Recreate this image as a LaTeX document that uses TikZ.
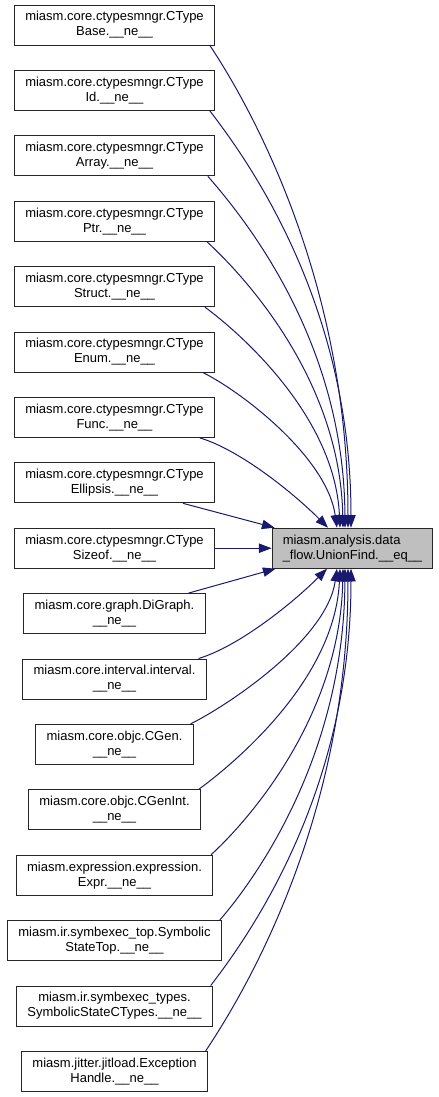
\documentclass[tikz,border=0pt]{standalone}
\usepackage{fontspec}
\setmainfont{Liberation Sans}
\usetikzlibrary{arrows.meta}
\definecolor{edgeblue}{RGB}{25,25,112}
\begin{document}
\begin{tikzpicture}[x=0.75pt,y=-0.75pt,
  src/.style={draw=black!85, line width=0.75pt, fill=white, align=center,
    inner xsep=8pt, inner ysep=2pt, minimum height=30pt,
    font=\fontsize{9.75}{11.25}\selectfont},
  tgt/.style={src, fill=black!25, align=left},
  link/.style={draw=edgeblue, line width=0.75pt, -{Triangle[length=9.5pt,width=7pt]}}]
\useasboundingbox (0,0) rectangle (439,1097);

\node[src] (s0) at (114.5,25) {miasm.core.ctypesmngr.CType\\Base.\_\_ne\_\_};
\node[src] (s1) at (114.5,90.4) {miasm.core.ctypesmngr.CType\\Id.\_\_ne\_\_};
\node[src] (s2) at (114.5,155.8) {miasm.core.ctypesmngr.CType\\Array.\_\_ne\_\_};
\node[src] (s3) at (114.5,221.2) {miasm.core.ctypesmngr.CType\\Ptr.\_\_ne\_\_};
\node[src] (s4) at (114.5,286.6) {miasm.core.ctypesmngr.CType\\Struct.\_\_ne\_\_};
\node[src] (s5) at (114.5,352) {miasm.core.ctypesmngr.CType\\Enum.\_\_ne\_\_};
\node[src] (s6) at (114.5,417.4) {miasm.core.ctypesmngr.CType\\Func.\_\_ne\_\_};
\node[src] (s7) at (114.5,482.8) {miasm.core.ctypesmngr.CType\\Ellipsis.\_\_ne\_\_};
\node[src] (s8) at (114.5,548.2) {miasm.core.ctypesmngr.CType\\Sizeof.\_\_ne\_\_};
\node[src] (s9) at (114.5,613.6) {miasm.core.graph.DiGraph.\\\_\_ne\_\_};
\node[src] (s10) at (114.5,679) {miasm.core.interval.interval.\\\_\_ne\_\_};
\node[src] (s11) at (114.5,744.4) {miasm.core.objc.CGen.\\\_\_ne\_\_};
\node[src] (s12) at (114.5,809.8) {miasm.core.objc.CGenInt.\\\_\_ne\_\_};
\node[src] (s13) at (114.5,875.2) {miasm.expression.expression.\\Expr.\_\_ne\_\_};
\node[src] (s14) at (114.5,940.6) {miasm.ir.symbexec\_top.Symbolic\\StateTop.\_\_ne\_\_};
\node[src] (s15) at (114.5,1006) {miasm.ir.symbexec\_types.\\SymbolicStateCTypes.\_\_ne\_\_};
\node[src] (s16) at (114.5,1071.4) {miasm.jitter.jitload.Exception\\Handle.\_\_ne\_\_};

\node[tgt] (t) at (352.5,548.2) {miasm.analysis.data\\\_flow.UnionFind.\_\_eq\_\_};

\draw[link] ([shift={(-5,0)}]s0.south east) .. controls +(30,45) and +(0,-260) .. ([shift={(-4.5,0)}]t.north);
\draw[link] ([shift={(-5,0)}]s1.south east) .. controls +(32,42) and +(0,-230) .. ([shift={(-1.5,0)}]t.north);
\draw[link] ([shift={(-7,0)}]s2.south east) .. controls +(33,38) and +(-1,-190) .. ([shift={(-7.5,0)}]t.north);
\draw[link] ([shift={(-8,0)}]s3.south east) .. controls +(35,32) and +(-3,-150) .. ([shift={(-9.5,0)}]t.north);
\draw[link] ([shift={(-10,0)}]s4.south east) .. controls +(38,28) and +(-5,-110) .. ([shift={(-12.5,0)}]t.north);
\draw[link] ([shift={(-12,0)}]s5.south east) .. controls +(40,20) and +(-10,-70) .. ([shift={(-15.5,0)}]t.north);
\draw[link] ([shift={(-15,0)}]s6.south east) .. controls +(40,12) and +(-35,-35) .. ([shift={(-24.5,0)}]t.north);
\draw[link] ([shift={(-32,0)}]s7.south east) -- ([shift={(3,0)}]t.north west);
\draw[link] (s8) -- (t);
\draw[link] ([shift={(-17,0)}]s9.north east) -- ([shift={(4,0)}]t.south west);
\draw[link] ([shift={(-8,0)}]s10.north east) .. controls +(40,-12) and +(-35,35) .. ([shift={(-25.5,0)}]t.south);
\draw[link] ([shift={(-3,0)}]s11.north east) .. controls +(40,-20) and +(-10,70) .. ([shift={(-15.5,0)}]t.south);
\draw[link] ([shift={(-2,0)}]s12.north east) .. controls +(38,-28) and +(-5,110) .. ([shift={(-12.5,0)}]t.south);
\draw[link] ([shift={(-2,0)}]s13.north east) .. controls +(35,-32) and +(-3,150) .. ([shift={(-9.5,0)}]t.south);
\draw[link] ([shift={(-2,0)}]s14.north east) .. controls +(33,-38) and +(-1,190) .. ([shift={(-7.5,0)}]t.south);
\draw[link] ([shift={(-2,0)}]s15.north east) .. controls +(32,-42) and +(0,230) .. ([shift={(-1.5,0)}]t.south);
\draw[link] ([shift={(-2,0)}]s16.north east) .. controls +(30,-45) and +(0,260) .. ([shift={(-4.5,0)}]t.south);
\end{tikzpicture}
\end{document}
